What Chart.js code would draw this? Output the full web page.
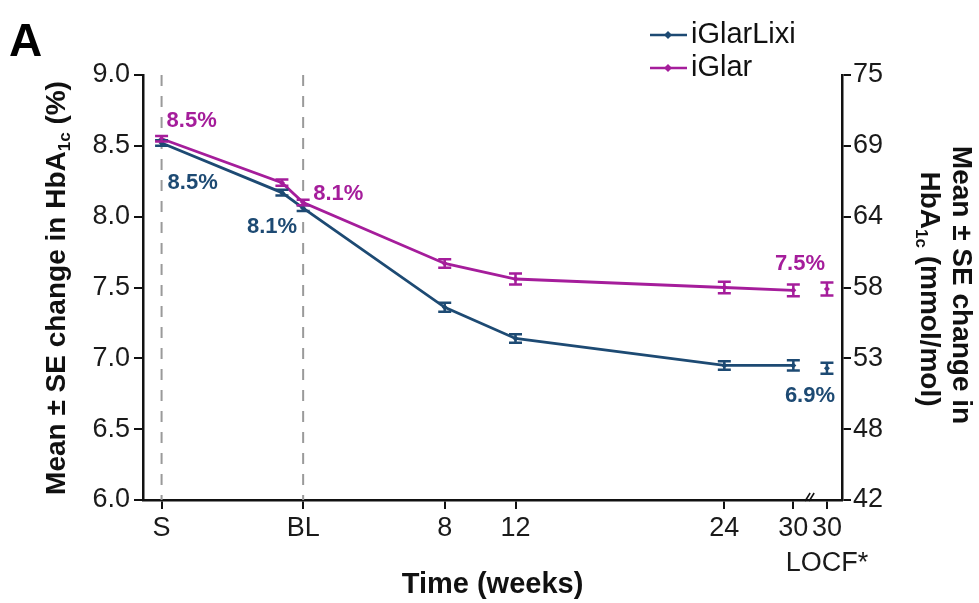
<!DOCTYPE html>
<html>
<head>
<meta charset="utf-8">
<script src="https://cdn.jsdelivr.net/npm/chart.js@4.4.1/dist/chart.umd.min.js"></script>
<style>
  html, body { margin: 0; padding: 0; background: #fff; }
</style>
</head>
<body>
<canvas id="c" width="979" height="603"></canvas>
<script>
// where each visit sits on the (broken) time axis, in weeks-ish units
const pointX = [-8, -1.2, 0, 8, 12, 23.8, 27.7, 29.6];
const tickPos = [-8, 0, 8, 12, 23.8, 27.7, 29.6];
const tickLabels = ['S', 'BL', '8', '12', '24', '30', ['30', 'LOCF*']];

// mean HbA1c (%) and SE per visit
const lixiMean = [8.52, 8.17, 8.06, 7.36, 7.14, 6.95, 6.95, 6.93];
const lixiSE   = [0.02, 0.02, 0.02, 0.032, 0.03, 0.03, 0.036, 0.038];
const glarMean = [8.55, 8.24, 8.10, 7.67, 7.56, 7.50, 7.48, 7.49];
const glarSE   = [0.02, 0.022, 0.02, 0.03, 0.038, 0.04, 0.042, 0.046];

// right axis shows the same ticks in mmol/mol
const rightTickLabels = ['42', '48', '53', '58', '64', '69', '75'];

const BLUE = '#1d4a73';
const MAGENTA = '#a51d9b';
const FONT = "'Liberation Sans', Arial, sans-serif";

// value labels next to points
const pctLabels = [
  { ds: 1, i: 0, text: '8.5%', dx: 5, dy: -18, align: 'left' },
  { ds: 0, i: 0, text: '8.5%', dx: 6, dy: 40, align: 'left' },
  { ds: 0, i: 2, text: '8.1%', dx: -6, dy: 19, align: 'right' },
  { ds: 1, i: 2, text: '8.1%', dx: 10, dy: -9, align: 'left' },
  { ds: 1, i: 7, text: '7.5%', dx: -27, dy: -25, align: 'center' },
  { ds: 0, i: 7, text: '6.9%', dx: -17, dy: 28, align: 'center' },
];

Chart.defaults.font.family = FONT;
Chart.defaults.color = '#1a1a1a';

function makeSeries(label, means, color) {
  return {
    label: label,
    data: pointX.map((x, i) => ({ x: x, y: means[i] })),
    borderColor: color,
    backgroundColor: color,
    borderWidth: 2.8,
    pointStyle: 'rectRot',
    pointRadius: 3,
    pointBackgroundColor: color,
    pointBorderWidth: 0,
    tension: 0,
    // LOCF point stands on its own, no line into it
    segment: {
      borderColor: ctx => ctx.p1DataIndex === pointX.length - 1 ? 'rgba(0,0,0,0)' : undefined
    }
  };
}

// draw text with a "1c" subscript piece, centred and rotated
function drawRich(ctx, parts, cx, cy, rot, size) {
  ctx.save();
  ctx.translate(cx, cy);
  ctx.rotate(rot);
  const big = 'bold ' + size + 'px ' + FONT;
  const small = 'bold ' + Math.round(size * 0.62) + 'px ' + FONT;
  let total = 0;
  parts.forEach(p => { ctx.font = p.sub ? small : big; total += ctx.measureText(p.t).width; });
  let x = -total / 2;
  ctx.fillStyle = '#111';
  ctx.textBaseline = 'middle';
  ctx.textAlign = 'left';
  parts.forEach(p => {
    ctx.font = p.sub ? small : big;
    ctx.fillText(p.t, x, p.sub ? size * 0.3 : 0);
    x += ctx.measureText(p.t).width;
  });
  ctx.restore();
}

const decorPlugin = {
  id: 'decor',
  beforeDatasetsDraw(chart) {
    const { ctx, chartArea, scales: { x } } = chart;
    // dashed guides at S and BL
    ctx.save();
    ctx.strokeStyle = '#9a9a9a';
    ctx.lineWidth = 2;
    ctx.setLineDash([11, 10]);
    [tickPos[0], tickPos[1]].forEach(v => {
      const px = x.getPixelForValue(v);
      ctx.beginPath();
      ctx.moveTo(px, chartArea.top);
      ctx.lineTo(px, chartArea.bottom);
      ctx.stroke();
    });
    ctx.restore();
  },
  afterDatasetsDraw(chart) {
    const { ctx, scales: { y } } = chart;
    const ses = [lixiSE, glarSE];
    const cols = [BLUE, MAGENTA];
    ctx.save();
    chart.data.datasets.forEach((ds, d) => {
      const meta = chart.getDatasetMeta(d);
      ctx.strokeStyle = cols[d];
      ctx.lineWidth = 2.5;
      meta.data.forEach((pt, i) => {
        const v = ds.data[i].y;
        const y1 = y.getPixelForValue(v + ses[d][i]);
        const y2 = y.getPixelForValue(v - ses[d][i]);
        ctx.beginPath();
        ctx.moveTo(pt.x, y1); ctx.lineTo(pt.x, y2);
        ctx.moveTo(pt.x - 6.5, y1); ctx.lineTo(pt.x + 6.5, y1);
        ctx.moveTo(pt.x - 6.5, y2); ctx.lineTo(pt.x + 6.5, y2);
        ctx.stroke();
      });
    });
    // percent labels
    ctx.font = 'bold 22px ' + FONT;
    ctx.textBaseline = 'middle';
    pctLabels.forEach(l => {
      const pt = chart.getDatasetMeta(l.ds).data[l.i];
      ctx.fillStyle = cols[l.ds];
      ctx.textAlign = l.align;
      ctx.fillText(l.text, pt.x + l.dx, pt.y + l.dy);
    });
    ctx.restore();
  },
  afterDraw(chart) {
    const { ctx, chartArea, scales: { x } } = chart;
    ctx.save();
    // panel letter
    ctx.fillStyle = '#000';
    ctx.font = 'bold 46px ' + FONT;
    ctx.textAlign = 'left';
    ctx.textBaseline = 'alphabetic';
    ctx.fillText('A', 9, 56);

    // axis break between week 30 and LOCF
    const bx = x.getPixelForValue((pointX[6] + pointX[7]) / 2);
    const by = chartArea.bottom;
    ctx.strokeStyle = '#111';
    ctx.lineWidth = 1.5;
    [-2, 2].forEach(o => {
      ctx.beginPath();
      ctx.moveTo(bx + o - 3, by + 1);
      ctx.lineTo(bx + o + 2, by - 7);
      ctx.stroke();
    });

    // legend
    const rows = [['iGlarLixi', BLUE, 35], ['iGlar', MAGENTA, 68]];
    ctx.font = '29px ' + FONT;
    ctx.textBaseline = 'middle';
    rows.forEach(([name, col, yy]) => {
      ctx.strokeStyle = col;
      ctx.lineWidth = 2.5;
      ctx.beginPath();
      ctx.moveTo(650, yy); ctx.lineTo(687, yy);
      ctx.stroke();
      ctx.fillStyle = col;
      ctx.beginPath();
      ctx.moveTo(668, yy - 4); ctx.lineTo(672, yy); ctx.lineTo(668, yy + 4); ctx.lineTo(664, yy);
      ctx.fill();
      ctx.fillStyle = '#111';
      ctx.fillText(name, 691, yy);
    });

    // axis titles with subscript
    drawRich(ctx, [{ t: 'Mean \u00b1 SE change in HbA' }, { t: '1c', sub: true }, { t: ' (%)' }],
      57, 288, -Math.PI / 2, 28);
    drawRich(ctx, [{ t: 'Mean \u00b1 SE change in' }], 961, 285, Math.PI / 2, 28);
    drawRich(ctx, [{ t: 'HbA' }, { t: '1c', sub: true }, { t: ' (mmol/mol)' }], 929, 289, Math.PI / 2, 28);
    ctx.restore();
  }
};

const axisGrid = { drawOnChartArea: false, drawTicks: true, tickLength: 9, color: '#111', lineWidth: 2 };
const axisBorder = { display: true, color: '#111', width: 2.5 };

new Chart(document.getElementById('c'), {
  type: 'line',
  data: {
    datasets: [makeSeries('iGlarLixi', lixiMean, BLUE), makeSeries('iGlar', glarMean, MAGENTA)]
  },
  options: {
    responsive: false,
    animation: false,
    devicePixelRatio: 1,
    layout: { padding: { top: 75, left: 0, right: 0, bottom: 0 } },
    plugins: {
      legend: { display: false },
      tooltip: { enabled: false }
    },
    scales: {
      x: {
        type: 'linear',
        min: -9.05,
        max: 30.45,
        afterBuildTicks: s => { s.ticks = tickPos.map(v => ({ value: v })); },
        afterFit: s => { s.height = 103; },
        ticks: {
          callback: (v, i) => tickLabels[i],
          font: { size: 27, lineHeight: 1.3 },
          color: '#1a1a1a',
          padding: 2,
          maxRotation: 0,
          autoSkip: false
        },
        grid: axisGrid,
        border: axisBorder,
        title: {
          display: true,
          text: 'Time (weeks)',
          font: { size: 29, weight: 'bold' },
          color: '#111',
          padding: { top: 0, bottom: 1 }
        }
      },
      y: {
        position: 'left',
        min: 6,
        max: 9,
        afterFit: s => { s.width = 143; },
        ticks: {
          stepSize: 0.5,
          callback: v => v.toFixed(1),
          font: { size: 27 },
          color: '#1a1a1a',
          padding: 4
        },
        grid: axisGrid,
        border: axisBorder
      },
      y2: {
        position: 'right',
        min: 6,
        max: 9,
        afterFit: s => { s.width = 137; },
        ticks: {
          stepSize: 0.5,
          callback: (v, i) => rightTickLabels[i],
          font: { size: 27 },
          color: '#1a1a1a',
          padding: 2
        },
        grid: axisGrid,
        border: axisBorder
      }
    }
  },
  plugins: [decorPlugin]
});
</script>
</body>
</html>
